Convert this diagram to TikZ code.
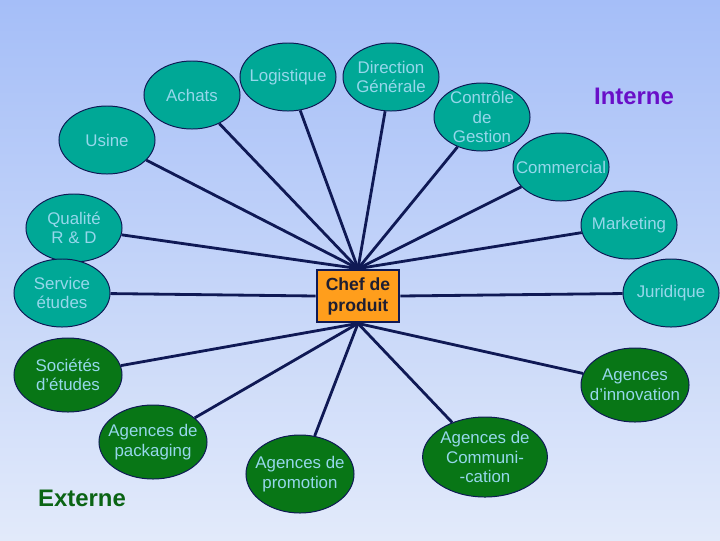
\documentclass[tikz,border=0pt]{standalone}
\usepackage{fontspec}
\setmainfont{Liberation Sans}
\usepackage{tikz}
\usepackage{xcolor}
\usetikzlibrary{shapes.geometric}
\definecolor{fondhaut}{RGB}{165,190,248}
\definecolor{fondbas}{RGB}{226,234,250}
\definecolor{sarcelle}{RGB}{0,168,150}
\definecolor{vertfonce}{RGB}{8,118,22}
\definecolor{texteclair}{RGB}{150,215,235}
\definecolor{marine}{RGB}{15,25,85}
\definecolor{orangechef}{RGB}{255,158,28}
\definecolor{violetint}{RGB}{105,15,200}
\definecolor{vertext}{RGB}{10,100,20}

\begin{document}
\begin{tikzpicture}[x=0.025cm,y=-0.025cm,every node/.style={font=\fontsize{12}{14}\selectfont},
  bulle/.style={ellipse,draw=marine,line width=0.7pt,inner sep=-30pt,minimum width=2.4cm,minimum height=1.7cm,text=texteclair,align=center},
  interne/.style={bulle,fill=sarcelle},
  externe/.style={bulle,fill=vertfonce,minimum width=2.7cm,minimum height=1.85cm},
  lien/.style={draw=marine,line width=2pt}]
\shade[top color=fondhaut,bottom color=fondbas] (0,0) rectangle (720,540);
% service interne
\node[interne] (achats) at (192,95) {Achats};
\node[interne] (logistique) at (288,77) {Logistique};
\node[interne] (direction) at (391,77) {Direction\\Générale};
\node[interne] (controle) at (482,117) {Contrôle\\de\\Gestion};
\node[interne] (commercial) at (561,167) {Commercial};
\node[interne] (usine) at (107,140) {Usine};
\node[interne] (qualite) at (74,228) {Qualité\\R \& D};
\node[interne] (service) at (62,293) {Service\\études};
\node[interne] (marketing) at (629,225) {Marketing};
\node[interne] (juridique) at (671,293) {Juridique};
% prestataires externes
\node[externe] (societes) at (68,375) {Sociétés\\d’études};
\node[externe] (packaging) at (153,442) {Agences de\\packaging};
\node[externe,minimum height=1.95cm] (promotion) at (300,474) {Agences de\\promotion};
\node[externe,minimum width=3.12cm,minimum height=2cm] (communication) at (485,457) {Agences de\\Communi-\\-cation};
\node[externe] (innovation) at (635,385) {Agences\\d’innovation};
% chef de produit
\node[draw=marine,line width=2pt,fill=orangechef,minimum width=2.05cm,minimum height=1.3cm,align=center,
  text={rgb,255:red,30;green,30;blue,50},font=\fontsize{12.5}{15}\selectfont\bfseries] (chef) at (358,296) {Chef de\\produit};
\foreach \n in {achats,logistique,direction,controle,commercial,usine,qualite,marketing}
  \draw[lien] (\n) -- (chef.north);
\foreach \n in {societes,packaging,promotion,communication,innovation}
  \draw[lien] (\n) -- (chef.south);
\draw[lien] (service) -- (chef.west);
\draw[lien] (juridique) -- (chef.east);
% legendes
\node[text=violetint,font=\fontsize{17}{20}\selectfont\bfseries] (interne) at (634,96) {Interne};
\node[text=vertext,font=\fontsize{17}{20}\selectfont\bfseries] (externe) at (82,498) {Externe};
\end{tikzpicture}
\end{document}
